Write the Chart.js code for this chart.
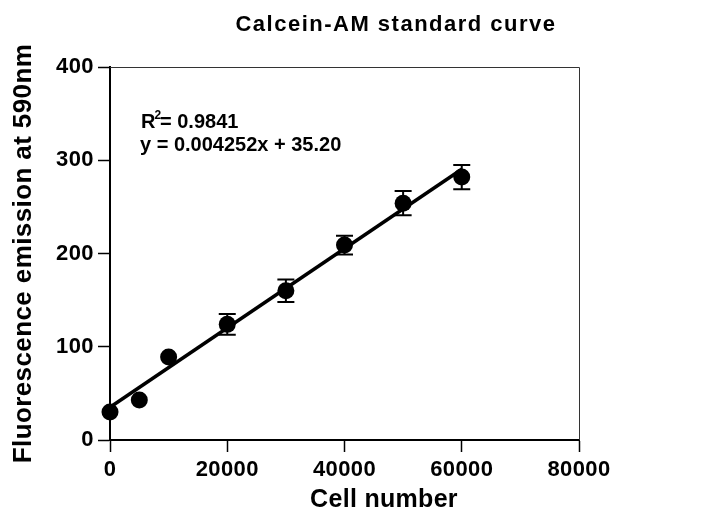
<!DOCTYPE html>
<html>
<head>
<meta charset="utf-8">
<title>Calcein-AM standard curve</title>
<script src="https://cdn.jsdelivr.net/npm/chart.js@4"></script>
<style>
    html, body { margin: 0; padding: 0; background: #fff; }
</style>
</head>
<body>
<canvas id="curve-chart" width="718" height="521"></canvas>
<script>
// Courbe standard Calcein-AM : valeurs
const cellNumbers = [0, 5000, 10000, 20000, 30000, 40000, 50000, 60000];
const fluorescence = [30, 43, 89, 124, 160, 209, 254, 282];
const errors = [0, 0, 0, 11, 12, 10, 13, 13];

// Droite de régression affichée (y = 0.004252x + 35.20)
const fitX = [0, 60000];
const fitY = [35.20, 290.32];

// Graduations des axes
const xTicks = [0, 20000, 40000, 60000, 80000];
const yTicks = [0, 100, 200, 300, 400];

const FONT = '"Liberation Sans", Arial, sans-serif';

/**
 * Léger espacement des lettres (le texte de la figure est un peu étiré)
 */
const textSpacing = {
    id: 'textSpacing',
    beforeDraw(chart) {
        chart.ctx.letterSpacing = '0.4px';
    }
};

/**
 * Barres d'erreur verticales avec petits chapeaux
 */
const errorBars = {
    id: 'errorBars',
    afterDatasetsDraw(chart) {
        const { ctx, scales: { x, y } } = chart;
        ctx.save();
        ctx.strokeStyle = '#000';
        ctx.lineWidth = 2;
        cellNumbers.forEach((c, i) => {
            if (!errors[i]) return;
            const px = x.getPixelForValue(c);
            const top = y.getPixelForValue(fluorescence[i] + errors[i]);
            const bot = y.getPixelForValue(fluorescence[i] - errors[i]);
            ctx.beginPath();
            ctx.moveTo(px, top);
            ctx.lineTo(px, bot);
            ctx.moveTo(px - 8.5, top);
            ctx.lineTo(px + 8.5, top);
            ctx.moveTo(px - 8.5, bot);
            ctx.lineTo(px + 8.5, bot);
            ctx.stroke();
        });
        ctx.restore();
    }
};

/**
 * Cadre haut/droite, titre, titre de l'axe X et équation
 */
const decorations = {
    id: 'decorations',
    afterDraw(chart) {
        const { ctx, chartArea: a } = chart;
        ctx.save();

        // cadre fin en haut et à droite
        ctx.strokeStyle = '#333';
        ctx.lineWidth = 1;
        ctx.beginPath();
        ctx.moveTo(a.left, a.top + 0.5);
        ctx.lineTo(a.right + 0.5, a.top + 0.5);
        ctx.lineTo(a.right + 0.5, a.bottom);
        ctx.stroke();

        ctx.fillStyle = '#000';
        ctx.textBaseline = 'alphabetic';

        // titre
        ctx.font = 'bold 22px ' + FONT;
        ctx.letterSpacing = '1.5px';
        ctx.textAlign = 'center';
        ctx.fillText('Calcein-AM standard curve', 396, 31);

        // titre de l'axe X
        ctx.font = 'bold 25px ' + FONT;
        ctx.letterSpacing = '0.3px';
        ctx.fillText('Cell number', 384, 507);

        // équation et R²
        ctx.textAlign = 'left';
        ctx.letterSpacing = '0px';
        ctx.font = 'bold 20px ' + FONT;
        ctx.fillText('R', 141, 128);
        const rw = ctx.measureText('R').width;
        ctx.font = 'bold 12px ' + FONT;
        ctx.fillText('2', 141 + rw - 1, 119);
        ctx.font = 'bold 20px ' + FONT;
        ctx.fillText('= 0.9841', 160, 128);
        ctx.fillText('y = 0.004252x + 35.20', 140, 151);

        ctx.restore();
    }
};

const ctx = document.getElementById('curve-chart').getContext('2d');
const curveChart = new Chart(ctx, {
    type: 'scatter',
    data: {
        datasets: [
            {
                type: 'line',
                label: 'Régression',
                data: fitX.map((x, i) => ({ x: x, y: fitY[i] })),
                borderColor: '#000',
                borderWidth: 3.5,
                pointRadius: 0,
                fill: false,
                clip: false,
                order: 1
            },
            {
                label: 'Calcein-AM',
                data: cellNumbers.map((x, i) => ({ x: x, y: fluorescence[i] })),
                backgroundColor: '#000',
                borderColor: '#000',
                borderWidth: 0,
                pointRadius: 8.5,
                pointHoverRadius: 8.5,
                clip: false,
                order: 0
            }
        ]
    },
    options: {
        responsive: false,
        devicePixelRatio: 1,
        animation: false,
        layout: {
            padding: { top: 67, right: 139, bottom: 0, left: 0 }
        },
        plugins: {
            legend: { display: false },
            tooltip: { enabled: false }
        },
        scales: {
            x: {
                type: 'linear',
                min: 0,
                max: 80000,
                afterBuildTicks: axis => {
                    axis.ticks = xTicks.map(v => ({ value: v }));
                },
                afterFit: axis => {
                    axis.height = 81;
                },
                border: { color: '#000', width: 2 },
                grid: {
                    drawOnChartArea: false,
                    tickLength: 12,
                    tickColor: '#000',
                    tickWidth: 1.5
                },
                ticks: {
                    color: '#000',
                    padding: 5,
                    maxRotation: 0,
                    font: { family: FONT, size: 22, weight: 'bold' },
                    callback: v => String(v)
                }
            },
            y: {
                type: 'linear',
                min: 0,
                max: 400,
                afterBuildTicks: axis => {
                    axis.ticks = yTicks.map(v => ({ value: v }));
                },
                afterFit: axis => {
                    axis.width = 110;
                },
                border: { color: '#000', width: 2 },
                grid: {
                    drawOnChartArea: false,
                    tickLength: 12,
                    tickColor: '#000',
                    tickWidth: 1.5
                },
                ticks: {
                    color: '#000',
                    padding: 4,
                    font: { family: FONT, size: 22, weight: 'bold' },
                    callback: v => String(v)
                },
                title: {
                    display: true,
                    text: 'Fluorescence emission at 590nm',
                    color: '#000',
                    padding: { top: 8, bottom: 0 },
                    font: { family: FONT, size: 26, weight: 'bold' }
                }
            }
        }
    },
    plugins: [textSpacing, errorBars, decorations]
});
</script>
</body>
</html>
